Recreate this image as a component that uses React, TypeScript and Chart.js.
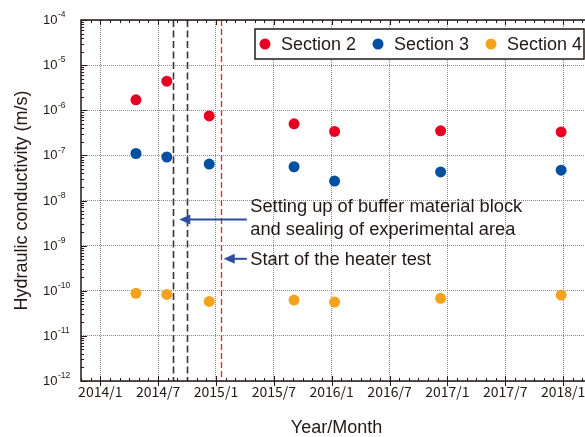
import React, { useEffect, useRef } from 'react';
import { Chart, registerables } from 'chart.js';

Chart.register(...registerables);

// ---- data ----
const X_TICK_MONTHS = [0, 6, 12, 18, 24, 30, 36, 42, 48]; // months since 2014/1
const X_TICK_LABELS = ['2014/1', '2014/7', '2015/1', '2015/7', '2016/1', '2016/7', '2017/1', '2017/7', '2018/1'];
const Y_DECADES = [-12, -11, -10, -9, -8, -7, -6, -5, -4];

const MEASURE_MONTHS = [3.7, 6.9, 11.3, 20.1, 24.3, 35.3, 47.8];
const SECTION2 = [1.7e-6, 4.4e-6, 7.5e-7, 5.0e-7, 3.4e-7, 3.5e-7, 3.3e-7];
const SECTION3 = [1.1e-7, 9.2e-8, 6.4e-8, 5.6e-8, 2.7e-8, 4.3e-8, 4.7e-8];
const SECTION4 = [8.8e-11, 8.3e-11, 5.8e-11, 6.2e-11, 5.6e-11, 6.8e-11, 8.0e-11];

const SERIES_LABELS = ['Section 2', 'Section 3', 'Section 4'];
const SERIES_COLORS = ['#e60021', '#0050a2', '#f5a31f'];

const SETUP_MONTHS = [7.5, 9.0];
const HEATER_MONTH = 12.5;

const SETUP_TEXT = ['Setting up of buffer material block', 'and sealing of experimental area'];
const HEATER_TEXT = 'Start of the heater test';
const ARROW_TAIL_MONTH = 15.2;
const SETUP_ARROW = { tip: 8.2, y: 3.8e-9 };
const HEATER_ARROW = { tip: 12.8, y: 5.1e-10 };
const TEXT_MONTH = 15.55;

const FONT = '"Liberation Sans", Arial, Helvetica, sans-serif';
const INK = '#231815';

const decorPlugin = {
  id: 'decor',
  beforeDatasetsDraw(chart: any) {
    const { ctx, chartArea: a, scales } = chart;
    const x = scales.x;
    ctx.save();
    ctx.beginPath();
    ctx.rect(a.left, a.top, a.right - a.left, a.bottom - a.top);
    ctx.clip();
    ctx.lineWidth = 1.6;
    ctx.strokeStyle = '#3b3434';
    ctx.setLineDash([7, 3.5]);
    SETUP_MONTHS.forEach((m) => {
      const px = Math.round(x.getPixelForValue(m)) + 0.5;
      ctx.beginPath();
      ctx.moveTo(px, a.top);
      ctx.lineTo(px, a.bottom);
      ctx.stroke();
    });
    ctx.lineWidth = 1.3;
    ctx.strokeStyle = '#d7263d';
    ctx.setLineDash([6, 3]);
    const hx = Math.round(x.getPixelForValue(HEATER_MONTH)) + 0.5;
    ctx.beginPath();
    ctx.moveTo(hx, a.top);
    ctx.lineTo(hx, a.bottom);
    ctx.stroke();
    ctx.restore();
  },
  afterDraw(chart: any) {
    const { ctx, chartArea: a, scales } = chart;
    const x = scales.x;
    const y = scales.y;
    ctx.save();
    // ticks
    ctx.strokeStyle = INK;
    ctx.lineWidth = 1;
    ctx.setLineDash([]);
    for (let m = Math.ceil(x.min); m <= x.max; m++) {
      const px = Math.round(x.getPixelForValue(m)) + 0.5;
      const major = m % 6 === 0;
      ctx.beginPath();
      ctx.moveTo(px, a.bottom + (major ? 5 : 0));
      ctx.lineTo(px, a.bottom - (major ? 5 : 3));
      ctx.moveTo(px, a.top);
      ctx.lineTo(px, a.top + (major ? 5 : 3));
      ctx.stroke();
    }
    Y_DECADES.forEach((d) => {
      for (let k = 1; k <= 9; k++) {
        const v = k * Math.pow(10, d);
        if (v > y.max * 1.0001) break;
        const py = Math.round(y.getPixelForValue(v)) + 0.5;
        const len = k === 1 ? 6 : 3;
        ctx.beginPath();
        ctx.moveTo(a.left, py);
        ctx.lineTo(a.left + len, py);
        ctx.moveTo(a.right, py);
        ctx.lineTo(a.right - len, py);
        ctx.stroke();
      }
    });
    // frame
    ctx.lineWidth = 1.5;
    ctx.strokeRect(a.left, a.top, a.right - a.left, a.bottom - a.top);

    // y labels 10^n
    ctx.fillStyle = INK;
    ctx.textBaseline = 'middle';
    ctx.textAlign = 'left';
    Y_DECADES.forEach((d) => {
      const py = y.getPixelForValue(Math.pow(10, d));
      ctx.font = `13px ${FONT}`;
      const lx = 43;
      ctx.fillText('10', lx, py + 0.5);
      const w = ctx.measureText('10').width;
      ctx.font = `8.5px ${FONT}`;
      ctx.fillText(String(d), lx + w + 0.5, py - 5);
    });

    // legend
    const boxLeft = a.left + 174;
    const boxRight = a.right - 8;
    const boxTop = a.top + 9;
    const boxH = 30;
    ctx.fillStyle = '#ffffff';
    ctx.fillRect(boxLeft, boxTop, boxRight - boxLeft, boxH);
    ctx.lineWidth = 1.5;
    ctx.strokeStyle = INK;
    ctx.strokeRect(boxLeft, boxTop, boxRight - boxLeft, boxH);
    chart.data.datasets.forEach((ds: any, i: number) => {
      const cx = boxLeft + 10 + i * 113;
      const cy = boxTop + boxH / 2;
      ctx.fillStyle = ds.backgroundColor;
      ctx.beginPath();
      ctx.arc(cx, cy, 5.5, 0, Math.PI * 2);
      ctx.fill();
      ctx.fillStyle = INK;
      ctx.font = `18px ${FONT}`;
      ctx.textBaseline = 'middle';
      ctx.fillText(ds.label, cx + 16, cy + 1);
    });

    // annotations
    const tailX = x.getPixelForValue(ARROW_TAIL_MONTH);
    const drawArrow = (tipMonth: number, yv: number) => {
      const tx = x.getPixelForValue(tipMonth);
      const py = y.getPixelForValue(yv);
      ctx.strokeStyle = '#2d4f9e';
      ctx.fillStyle = '#2d4f9e';
      ctx.lineWidth = 2;
      ctx.beginPath();
      ctx.moveTo(tailX, py);
      ctx.lineTo(tx + 8, py);
      ctx.stroke();
      ctx.beginPath();
      ctx.moveTo(tx, py);
      ctx.lineTo(tx + 11, py - 5);
      ctx.lineTo(tx + 11, py + 5);
      ctx.closePath();
      ctx.fill();
    };
    drawArrow(SETUP_ARROW.tip, SETUP_ARROW.y);
    drawArrow(HEATER_ARROW.tip, HEATER_ARROW.y);
    ctx.fillStyle = INK;
    ctx.font = `18.3px ${FONT}`;
    ctx.textBaseline = 'middle';
    const textX = x.getPixelForValue(TEXT_MONTH);
    const sy = y.getPixelForValue(SETUP_ARROW.y);
    ctx.fillText(SETUP_TEXT[0], textX, sy - 13);
    ctx.fillText(SETUP_TEXT[1], textX, sy + 10);
    const hy = y.getPixelForValue(HEATER_ARROW.y);
    ctx.fillText(HEATER_TEXT, textX, hy + 1);
    ctx.restore();
  },
};

export default function App() {
  const ref = useRef<HTMLCanvasElement | null>(null);
  useEffect(() => {
    if (!ref.current) return;
    const series = [SECTION2, SECTION3, SECTION4];
    const chart = new Chart(ref.current, {
      type: 'scatter',
      data: {
        datasets: series.map((vals, i) => ({
          label: SERIES_LABELS[i],
          data: MEASURE_MONTHS.map((m, j) => ({ x: m, y: vals[j] })),
          backgroundColor: SERIES_COLORS[i],
          borderWidth: 0,
          pointRadius: 5.5,
          showLine: false,
        })),
      },
      options: {
        animation: false,
        responsive: false,
        devicePixelRatio: 1,
        layout: { padding: { top: 20, right: 10, left: 0, bottom: 0 } },
        plugins: { legend: { display: false }, tooltip: { enabled: false } },
        scales: {
          x: {
            type: 'linear',
            min: -2,
            max: 51,
            afterBuildTicks: (s: any) => {
              s.ticks = X_TICK_MONTHS.map((v) => ({ value: v }));
            },
            afterFit: (s: any) => {
              s.height = 56;
            },
            grid: { color: '#8a8a8a', lineWidth: 1, drawTicks: false },
            border: { display: false, dash: [1, 1] },
            ticks: {
              callback: (v: any) => {
                const i = X_TICK_MONTHS.indexOf(Number(v));
                return i >= 0 ? X_TICK_LABELS[i] : '';
              },
              font: { family: '"Noto Sans CJK JP", sans-serif', size: 14 },
              color: INK,
              padding: 2,
              maxRotation: 0,
              autoSkip: false,
            },
            title: {
              display: true,
              text: 'Year/Month',
              font: { family: FONT, size: 18, lineHeight: 1 },
              color: INK,
              padding: { top: 0, bottom: 0 },
            },
          },
          y: {
            type: 'logarithmic',
            min: 1e-12,
            max: 1e-4,
            afterBuildTicks: (s: any) => {
              s.ticks = Y_DECADES.map((d) => ({ value: Math.pow(10, d) }));
            },
            afterFit: (s: any) => {
              s.width = 81;
            },
            grid: { color: '#8a8a8a', lineWidth: 1, drawTicks: false },
            border: { display: false, dash: [1, 1] },
            ticks: { display: false },
            title: {
              display: true,
              text: 'Hydraulic conductivity (m/s)',
              font: { family: FONT, size: 18, lineHeight: 1 },
              color: INK,
              padding: { top: 13, bottom: 0 },
            },
          },
        },
      },
      plugins: [decorPlugin],
    } as any);
    return () => chart.destroy();
  }, []);

  return (
    <div
      style={{
        position: 'fixed',
        left: 0,
        top: 0,
        width: 585,
        height: 437,
        overflow: 'hidden',
        background: '#ffffff',
      }}
    >
      <canvas ref={ref} width={602} height={437} style={{ width: 602, height: 437, display: 'block' }} />
    </div>
  );
}
